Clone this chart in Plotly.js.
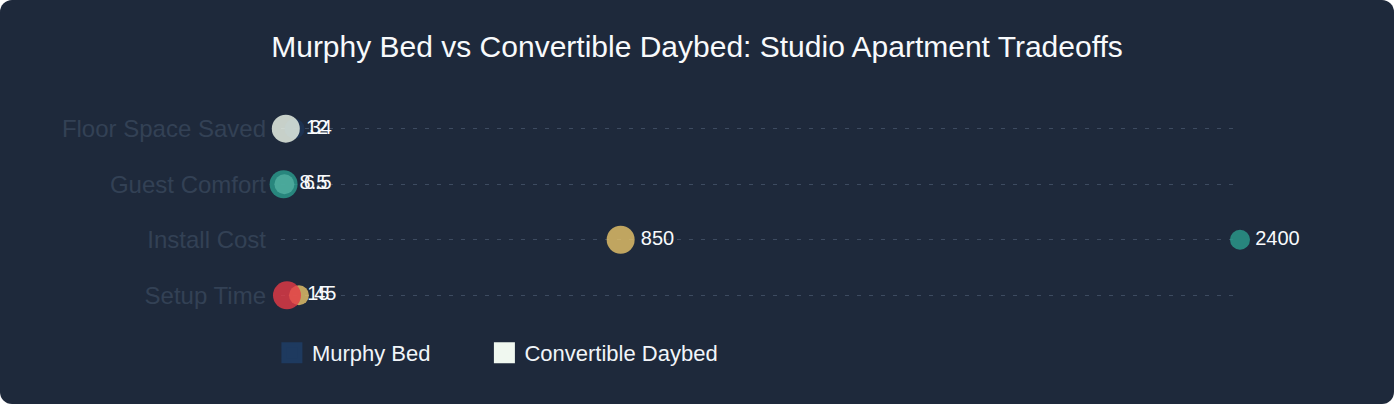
<!DOCTYPE html>
<html>
<head>
<meta charset="utf-8">
<script src="https://cdn.plot.ly/plotly-3.0.1.min.js"></script>
<style>
  html, body { margin: 0; padding: 0; background: #ffffff; }
  #card {
    width: 1394px; height: 404px;
    background: #1e293b;
    border-radius: 12px;
    overflow: hidden;
  }
  #chart { width: 1394px; height: 404px; }
</style>
</head>
<body>
<div id="card"><div id="chart"></div></div>
<script>
// categories top to bottom
var metrics = ['Floor Space Saved', 'Guest Comfort', 'Install Cost', 'Setup Time'];

// values
var murphyValues = [34, 8.5, 2400, 45];
var daybedValues = [12, 6.5, 850, 15];

// point colours
var murphyColors = ['#1d3557', '#f1faee', '#2a9d8f', '#e9c46a'];
var daybedColors = ['#f1faee', '#2a9d8f', '#e9c46a', '#e63946'];

var fontFamily = '"Helvetica Neue", Arial, "Liberation Sans", sans-serif';

function dotTrace(name, values, colors, size) {
    return {
        type: 'scatter',
        mode: 'markers+text',
        name: name,
        x: values,
        y: metrics,
        text: values.map(function (v) { return '\u200a' + String(v); }),
        textposition: 'middle right',
        textfont: { color: '#f8fafc', size: 20, family: fontFamily },
        marker: { color: colors, size: size, opacity: 0.8, line: { width: 0 } },
        cliponaxis: false,
        showlegend: false,
        hoverinfo: 'x+y+name'
    };
}

// swatches for the legend only
function legendTrace(name, color) {
    return {
        type: 'scatter',
        mode: 'markers',
        name: name,
        x: [null],
        y: [null],
        marker: { color: color, size: 16, symbol: 'square', line: { color: color, width: 5 } },
        showlegend: true
    };
}

var data = [
    dotTrace('Murphy Bed', murphyValues, murphyColors, 20),
    dotTrace('Convertible Daybed', daybedValues, daybedColors, 28),
    legendTrace('Murphy Bed\u00a0\u00a0\u00a0\u00a0\u00a0\u00a0\u00a0\u00a0', '#1e3a5f'),
    legendTrace('Convertible Daybed', '#f0f8f0')
];

var layout = {
    width: 1394,
    height: 404,
    paper_bgcolor: 'rgba(0,0,0,0)',
    plot_bgcolor: 'rgba(0,0,0,0)',
    font: { family: fontFamily, color: '#f8fafc' },
    margin: { l: 281, r: 154, t: 100, b: 80 },
    title: {
        text: 'Murphy Bed vs Convertible Daybed: Studio Apartment Tradeoffs',
        font: { size: 30, color: '#f8fafc', family: fontFamily },
        x: 0.5, xanchor: 'center',
        y: 0.886, yanchor: 'middle'
    },
    xaxis: {
        range: [0, 2400],
        showgrid: false,
        zeroline: false,
        showline: false,
        showticklabels: false,
        ticks: ''
    },
    yaxis: {
        type: 'category',
        autorange: 'reversed',
        showgrid: true,
        gridcolor: '#3d4b60',
        gridwidth: 1,
        griddash: '4px,8px',
        zeroline: false,
        showline: false,
        ticks: '',
        ticklabelstandoff: 14,
        tickfont: { size: 24, color: '#334155', family: fontFamily }
    },
    legend: {
        orientation: 'h',
        x: -0.0095, xanchor: 'left',
        y: -0.036, yanchor: 'top',
        font: { size: 22, color: '#f1f5f9', family: fontFamily },
        itemwidth: 30,
        bgcolor: 'rgba(0,0,0,0)'
    },
    showlegend: true
};

Plotly.newPlot('chart', data, layout, { displayModeBar: false, staticPlot: true });
</script>
</body>
</html>
